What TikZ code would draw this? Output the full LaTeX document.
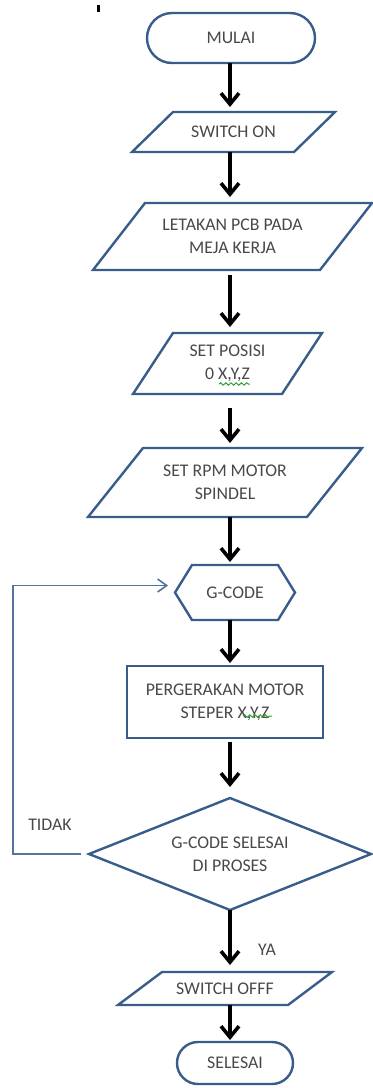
\documentclass[tikz,border=0pt]{standalone}
\usepackage{fontspec}
\setmainfont{Carlito}
\usetikzlibrary{arrows.meta,decorations.pathmorphing}
\definecolor{shpblue}{RGB}{56,93,138}
\definecolor{txtgray}{RGB}{72,72,72}
\definecolor{loopblue}{RGB}{84,114,162}
\definecolor{squig}{RGB}{50,160,50}
\newcommand\drawpara[2]{\draw[shp] ([xshift=#2]#1.north west) -- (#1.north east) -- ([xshift=-#2]#1.south east) -- (#1.south west) -- cycle;}
\newcommand\drawhexa[2]{\draw[shp] (#1.west) -- ([xshift=#2]#1.north west) -- ([xshift=-#2]#1.north east) -- (#1.east) -- ([xshift=-#2]#1.south east) -- ([xshift=#2]#1.south west) -- cycle;}
\begin{document}
\begin{tikzpicture}[x=0.5pt,y=-0.5pt,
  box/.style={draw=none,inner sep=0pt,outer sep=0pt,align=center,text=txtgray,font=\fontsize{8.9pt}{11.5pt}\selectfont},
  shp/.style={draw=shpblue,line width=1.2pt,line join=miter},
  arr/.style={draw=black,line width=1.8pt,-{Straight Barb[length=5.5pt,width=9pt]}},
  loopl/.style={draw=loopblue,line width=0.8pt,-{Straight Barb[length=4.5pt,width=6.5pt]}},
  squigl/.style={draw=squig,line width=0.5pt,decorate,decoration={snake,amplitude=0.6pt,segment length=2.6pt}}]
\useasboundingbox (0,0) rectangle (372,1088);
\fill[black] (97,5) rectangle (100,12);
\coordinate (ax) at (230,0);
\coordinate (lx) at (13,0);
% nodes
\node[box,shp,rounded corners=12.5pt,minimum width=84pt,minimum height=25pt] (start) at (231,38) {MULAI};
\node[box,minimum width=101.5pt,minimum height=20pt] (on) at (233.5,132) {SWITCH ON};
\drawpara{on}{20.5pt}
\node[box,minimum width=139.5pt,minimum height=33.5pt] (pcb) at (232.5,236.5) {LETAKAN PCB PADA\\MEJA KERJA};
\drawpara{pcb}{26pt}
\node[box,minimum width=94.5pt,minimum height=30.5pt] (pos) at (227.5,363.5) {SET POSISI\\0 X,Y,Z};
\drawpara{pos}{20pt}
\node[box,minimum width=137pt,minimum height=34.5pt] (rpm) at (225,482.5) {SET RPM MOTOR\\SPINDEL};
\drawpara{rpm}{27.5pt}
\node[box,minimum width=60pt,minimum height=27.5pt] (g) at (235,592.5) {G-CODE};
\drawhexa{g}{8.5pt}
\node[box,shp,minimum width=98pt,minimum height=36pt] (mot) at (225,702) {PERGERAKAN MOTOR\\STEPER X,Y,Z};
\node[box,minimum width=141pt,minimum height=56pt] (dec) at (230,854) {G-CODE SELESAI\\DI PROSES};
\draw[shp] (dec.north) -- (dec.east) -- (dec.south) -- (dec.west) -- cycle;
\node[box,minimum width=107pt,minimum height=16.5pt] (off) at (225,988.5) {SWITCH OFFF};
\drawpara{off}{22pt}
\node[box,shp,rounded corners=10.5pt,minimum width=58pt,minimum height=21pt] (end) at (235,1063) {SELESAI};
\node[box] (ya) at (267,950) {YA};
\node[box] (tidak) at (50,825) {TIDAK};
% connectors
\draw[arr,shorten >=2.5pt] (start.south -| ax) -- (on.north -| ax);
\draw[arr,shorten >=3pt] (on.south -| ax) -- (pcb.north -| ax);
\draw[arr,shorten <=2.5pt,shorten >=3pt] (pcb.south -| ax) -- (pos.north -| ax);
\draw[arr,shorten <=7pt,shorten >=2.5pt] (pos.south -| ax) -- (rpm.north -| ax);
\draw[arr,shorten >=1.5pt] (rpm.south -| ax) -- (g.north -| ax);
\draw[arr,shorten >=1.5pt] (g.south -| ax) -- (mot.north -| ax);
\draw[arr,shorten <=2pt,shorten >=5.5pt] (mot.south -| ax) -- (dec.north -| ax);
\draw[arr,shorten >=3.5pt] (dec.south -| ax) -- (off.north -| ax);
\draw[arr,shorten >=1pt] (off.south -| ax) -- (end.north -| ax);
\draw[loopl,shorten <=4pt,shorten >=3.5pt] (dec.west) -- (dec.west -| lx) |- ([yshift=3.5pt]g.west);
% spell-check marks
\draw[squigl] (219,384) -- (250,384);
\draw[squigl] (243,716) -- (272,716);
\end{tikzpicture}
\end{document}
